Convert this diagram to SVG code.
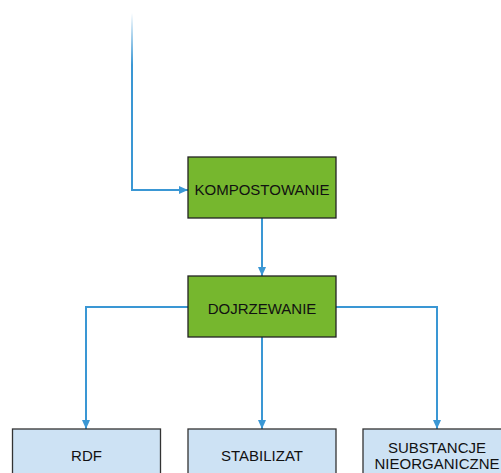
<svg xmlns="http://www.w3.org/2000/svg" width="501" height="473" viewBox="0 0 501 473">
<style>
.c{fill:none;stroke:#3a97d4;stroke-width:2}
.g{fill:#76b72e;stroke:#222;stroke-width:1.3}
.b{fill:#cde2f4;stroke:#333;stroke-width:1.3}
text{font-family:"Liberation Sans",Arial,sans-serif;font-size:15px;fill:#111;text-anchor:middle}
</style>
<defs>
<marker id="a" markerWidth="9" markerHeight="8" refX="9" refY="4" orient="auto" markerUnits="userSpaceOnUse">
<path d="M0,0 L9,4 L0,8 Z" fill="#3a97d4"/>
</marker>
<linearGradient id="fade" gradientUnits="userSpaceOnUse" x1="0" y1="13" x2="0" y2="65">
<stop offset="0" stop-color="#3a97d4" stop-opacity="0"/>
<stop offset="1" stop-color="#3a97d4" stop-opacity="1"/>
</linearGradient>
</defs>
<g id="connectors">
<path d="M132,13 L132,66" fill="none" stroke="url(#fade)" stroke-width="2"/>
<path class="c" d="M132,65 L132,190 L188,190" marker-end="url(#a)"/>
<path class="c" d="M262,218 L262,276" marker-end="url(#a)"/>
<path class="c" d="M188,307 L86,307 L86,429" marker-end="url(#a)"/>
<path class="c" d="M262,337 L262,429" marker-end="url(#a)"/>
<path class="c" d="M336,307 L437,307 L437,429" marker-end="url(#a)"/>
</g>
<g id="kompostowanie">
<rect class="g" x="188" y="157" width="148" height="61"/>
<text x="262" y="195">KOMPOSTOWANIE</text>
</g>
<g id="dojrzewanie">
<rect class="g" x="188" y="276" width="148" height="61"/>
<text x="262" y="314">DOJRZEWANIE</text>
</g>
<g id="rdf">
<rect class="b" x="12.5" y="429" width="148" height="61"/>
<text x="86.5" y="461">RDF</text>
</g>
<g id="stabilizat">
<rect class="b" x="188" y="429" width="148" height="61"/>
<text x="262" y="461">STABILIZAT</text>
</g>
<g id="substancje">
<rect class="b" x="363" y="429" width="148" height="61"/>
<text x="437" y="453">SUBSTANCJE</text>
<text x="437" y="469">NIEORGANICZNE</text>
</g>
</svg>
